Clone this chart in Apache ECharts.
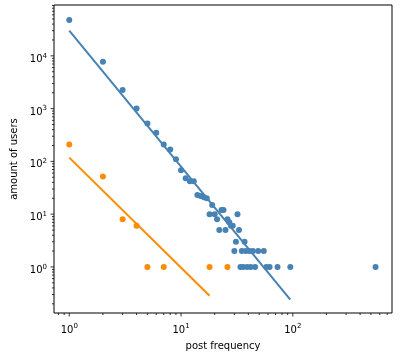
<!DOCTYPE html>
<html><head><meta charset="utf-8">
<script src="https://cdn.jsdelivr.net/npm/echarts@6/dist/echarts.min.js"></script>
<style>html,body{margin:0;padding:0;background:#fff}#c{width:400px;height:358px}</style>
</head><body><div id="c"></div>
<script>
// post frequency -> amount of users (group 1, blue)
const blueX = [1,2,3,4,5,6,7,8,9,10,11,12,13,14,15,16,17,18,19,20,21,22,23,24,25,26,27,28,29,30,31,32,33,34,35,36,37,38,39,41,42,44,46,49,55,58,62,73,95,550];
const blueY = [48000,7700,2260,1010,525,350,210,168,110,68,48,42,42,23,22,21,20,10,15,10,8,5,12,12,5,8,7,6,6,2,3,10,5,1,2,1,3,2,1,2,1,2,1,2,2,1,1,1,1,1];
// group 2, orange
const orangeX = [1,2,3,4,5,7,18,26];
const orangeY = [208,52,8,6,1,1,1,1];
// fitted power-law lines (endpoints)
const blueFitX = [1,95];
const blueFitY = [30000,0.24];
const orangeFitX = [1,18];
const orangeFitY = [118,0.285];
// axis ranges and ticks
const xMin = 0.73, xMax = 772;
const yMin = 0.134, yMax = 92000;
const xMajor = [1,10,100];
const yMajor = [1,10,100,1000,10000];
const xMinor = [0.8,0.9,2,3,4,5,6,7,8,9,20,30,40,50,60,70,80,90,200,300,400,500,600,700];
const yMinor = [0.2,0.3,0.4,0.5,0.6,0.7,0.8,0.9,2,3,4,5,6,7,8,9,20,30,40,50,60,70,80,90,200,300,400,500,600,700,800,900,2000,3000,4000,5000,6000,7000,8000,9000,20000,30000,40000,50000,60000,70000,80000,90000];

const BLUE = '#4682b4', ORANGE = '#ff8c00';
const zip = (a, b) => a.map((v, i) => [v, b[i]]);

function powLabel(v) {
  const e = Math.log10(v);
  if (Math.abs(e - Math.round(e)) > 1e-6) return '';
  return '{b|10}{s|' + Math.round(e) + '}';
}
const rich = {
  b: {fontSize: 10, fontFamily: 'DejaVu Sans', color: '#000'},
  s: {fontSize: 7, fontFamily: 'DejaVu Sans', color: '#000', verticalAlign: 'bottom', padding: [0,0,7,0]}
};

const xTickData = xMajor.map(v => [v, yMin, 3.5, 'x']).concat(xMinor.map(v => [v, yMin, 2, 'x']));
const yTickData = yMajor.map(v => [xMin, v, 3.5, 'y']).concat(yMinor.map(v => [xMin, v, 2, 'y']));

function tickRender(params, api) {
  const p = api.coord([api.value(0), api.value(1)]);
  const len = api.value(2);
  const isX = api.value(3) === 'x';
  const shape = isX ? {x1: p[0], y1: p[1], x2: p[0], y2: p[1] + len}
                    : {x1: p[0], y1: p[1], x2: p[0] - len, y2: p[1]};
  return {type: 'line', shape: shape, style: {stroke: '#000', lineWidth: 0.8}};
}

const chart = echarts.init(document.getElementById('c'), null, {renderer: 'canvas'});
chart.setOption({
  animation: false,
  backgroundColor: '#fff',
  grid: {left: 54, right: 8, top: 5, bottom: 45, show: true, borderColor: '#000', borderWidth: 1, backgroundColor: 'transparent'},
  xAxis: {
    type: 'log', logBase: 10, min: xMin, max: xMax,
    name: 'post frequency', nameLocation: 'middle', nameGap: 28,
    nameTextStyle: {fontSize: 10, fontFamily: 'DejaVu Sans', color: '#000'},
    axisLine: {show: false}, axisTick: {show: false}, splitLine: {show: false},
    axisLabel: {margin: 10, formatter: powLabel, rich: rich, showMinLabel: false, showMaxLabel: false}
  },
  yAxis: {
    type: 'log', logBase: 10, min: yMin, max: yMax,
    name: 'amount of users', nameLocation: 'middle', nameGap: 35, nameRotate: 90,
    nameTextStyle: {fontSize: 10, fontFamily: 'DejaVu Sans', color: '#000'},
    axisLine: {show: false}, axisTick: {show: false}, splitLine: {show: false},
    axisLabel: {margin: 7, padding: [7,0,0,0], formatter: powLabel, rich: rich, showMinLabel: false, showMaxLabel: false}
  },
  series: [
    {type: 'custom', renderItem: tickRender, data: xTickData, silent: true, clip: false, z: 1},
    {type: 'custom', renderItem: tickRender, data: yTickData, silent: true, clip: false, z: 1},
    {type: 'scatter', data: zip(blueX, blueY), symbolSize: 6, itemStyle: {color: BLUE, opacity: 1}, z: 2},
    {type: 'line', data: zip(blueFitX, blueFitY), symbol: 'none', lineStyle: {color: BLUE, width: 2}, z: 3},
    {type: 'scatter', data: zip(orangeX, orangeY), symbolSize: 6, itemStyle: {color: ORANGE, opacity: 1}, z: 4},
    {type: 'line', data: zip(orangeFitX, orangeFitY), symbol: 'none', lineStyle: {color: ORANGE, width: 2}, z: 5}
  ]
});
</script></body></html>
